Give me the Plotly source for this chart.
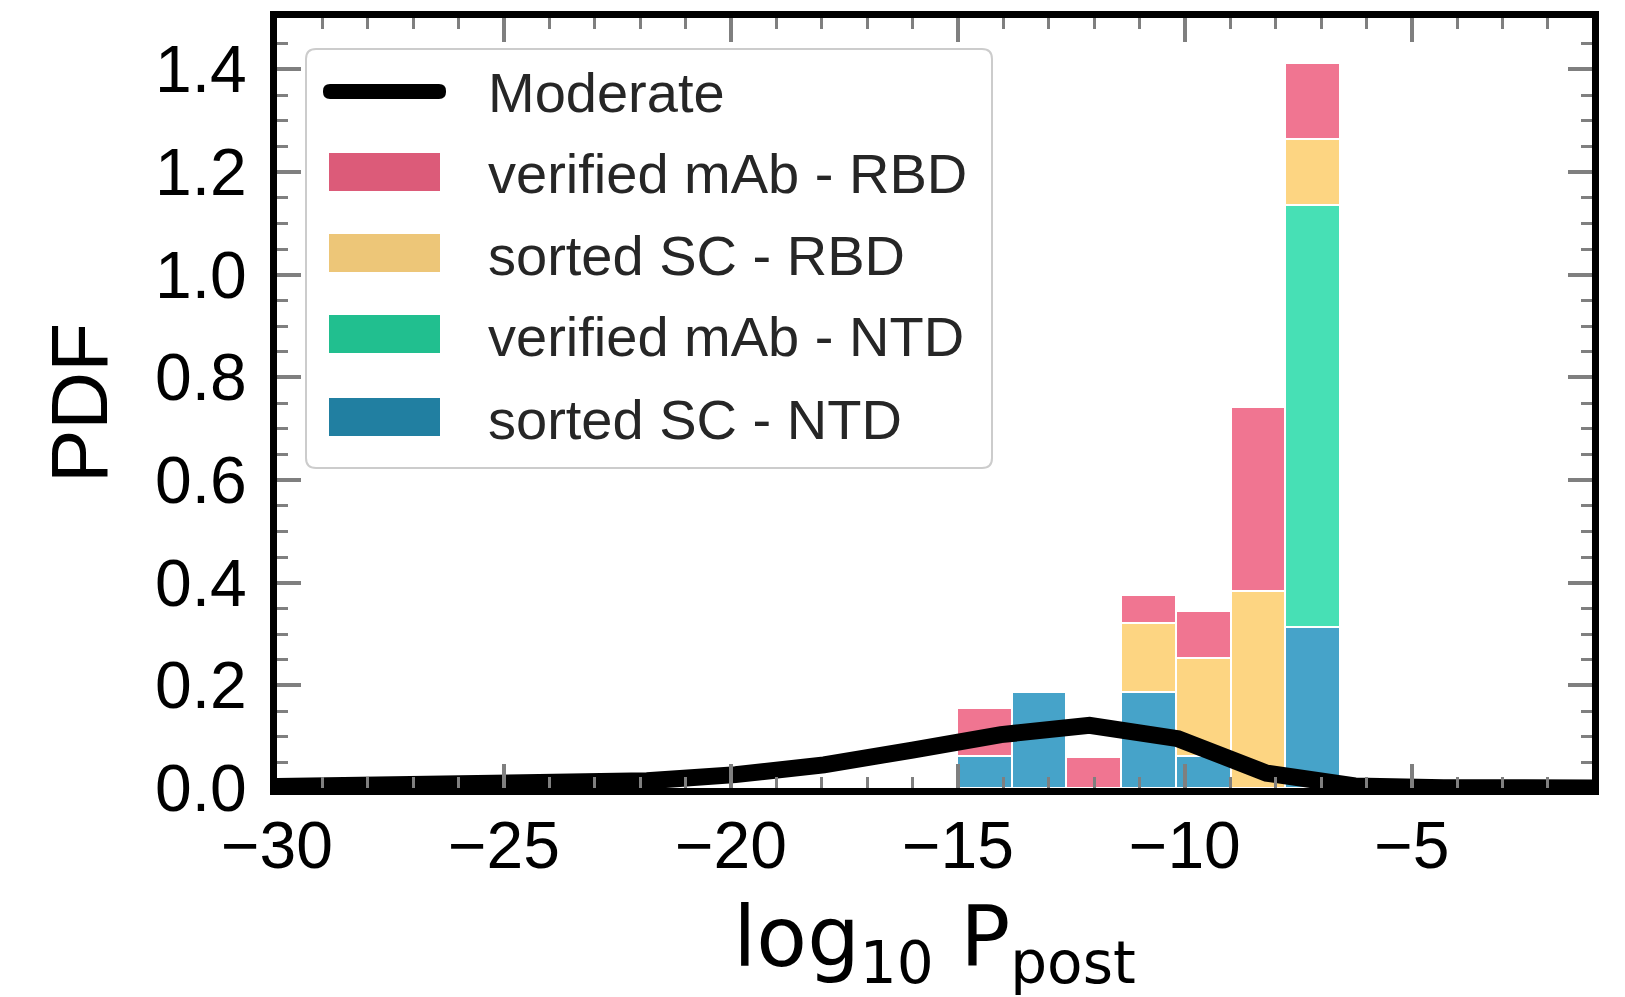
import plotly.graph_objects as go

# Histogram bins of log10 P_post (shared by all four stacked datasets)
bin_edges = [-15.02, -13.81, -12.61, -11.40, -10.20, -8.99, -7.79, -6.58]

# Stacked densities per bin, bottom to top
sorted_sc_ntd = [0.0625, 0.1875, 0.0, 0.1875, 0.0625, 0.0, 0.314]
verified_mab_ntd = [0.0, 0.0, 0.0, 0.0, 0.0, 0.0, 0.821]
sorted_sc_rbd = [0.0, 0.0, 0.0, 0.134, 0.190, 0.383, 0.129]
verified_mab_rbd = [0.093, 0.0, 0.060, 0.055, 0.092, 0.359, 0.148]

# "Moderate" reference density curve
moderate_x = [-31.6, -29.65, -27.7, -25.75, -23.8, -21.85, -19.9, -17.95, -16.0,
              -14.05, -12.1, -10.15, -8.2, -6.25, -4.3, -2.35, -0.4]
moderate_y = [0.001, 0.002, 0.003, 0.005, 0.008, 0.014, 0.026, 0.045, 0.074,
              0.104, 0.122, 0.096, 0.029, 0.004, 0.0005, 0.0, 0.0]

x_ticks = [-30, -25, -20, -15, -10, -5]
y_ticks = [0.0, 0.2, 0.4, 0.6, 0.8, 1.0, 1.2, 1.4]

series_names = ["sorted SC - NTD", "verified mAb - NTD", "sorted SC - RBD", "verified mAb - RBD"]
series_values = [sorted_sc_ntd, verified_mab_ntd, sorted_sc_rbd, verified_mab_rbd]
bar_colors = ["#46A3C9", "#47E0B5", "#FDD582", "#F07591"]
swatch_colors = ["#217FA1", "#21BF8F", "#EDC678", "#DC5B79"]

W, H = 1625, 997
M_L, M_R, M_T, M_B = 277, 33, 18, 209
PW, PH = W - M_L - M_R, H - M_T - M_B

centers = [(a + b) / 2 for a, b in zip(bin_edges[:-1], bin_edges[1:])]
widths = [(b - a) for a, b in zip(bin_edges[:-1], bin_edges[1:])]

fig = go.Figure()
for name, vals, col in zip(series_names, series_values, bar_colors):
    fig.add_trace(go.Bar(
        x=centers, y=[v if v > 0 else None for v in vals], width=widths,
        name=name, marker=dict(color=col, line=dict(color="white", width=2)),
        showlegend=False,
    ))

fig.add_trace(go.Scatter(
    x=moderate_x, y=moderate_y, mode="lines", name="Moderate",
    line=dict(color="black", width=17), showlegend=False,
))


def px(x):
    return (x - M_L) / PW


def py(y):
    return (H - M_B - y) / PH


def rounded_rect(x0, y0, x1, y1, r):
    rx, ry = r / PW, r / PH
    a, b, c, d = px(x0), px(x1), py(y0), py(y1)  # c is top, d is bottom
    return (f"M {a + rx},{c} L {b - rx},{c} Q {b},{c} {b},{c - ry} "
            f"L {b},{d + ry} Q {b},{d} {b - rx},{d} L {a + rx},{d} "
            f"Q {a},{d} {a},{d + ry} L {a},{c - ry} Q {a},{c} {a + rx},{c} Z")


shapes = []
# legend frame
shapes.append(dict(type="path", xref="paper", yref="paper",
                   path=rounded_rect(306, 49, 992, 468, 10),
                   fillcolor="rgba(255,255,255,0.8)",
                   line=dict(color="#cccccc", width=2)))
# legend line sample for the curve
shapes.append(dict(type="path", xref="paper", yref="paper",
                   path=rounded_rect(323, 84, 446, 99, 7),
                   fillcolor="black", line=dict(width=0)))

annotations = []
legend_font = dict(family="Liberation Sans, Arial", size=56, color="#262626")
annotations.append(dict(x=px(486), y=py(93), xref="paper", yref="paper",
                        text="Moderate", showarrow=False, xanchor="left",
                        yanchor="middle", font=legend_font))

legend_rows = [("verified mAb - RBD", swatch_colors[3], 172),
               ("sorted SC - RBD", swatch_colors[2], 253),
               ("verified mAb - NTD", swatch_colors[1], 334),
               ("sorted SC - NTD", swatch_colors[0], 417)]
for label, col, yc in legend_rows:
    shapes.append(dict(type="rect", xref="paper", yref="paper",
                       x0=px(329), x1=px(440), y0=py(yc - 19), y1=py(yc + 19),
                       fillcolor=col, line=dict(width=0)))
    annotations.append(dict(x=px(486), y=py(yc + 2), xref="paper", yref="paper",
                            text=label, showarrow=False, xanchor="left",
                            yanchor="middle", font=legend_font))

tick_font = dict(family="Liberation Sans, Arial", size=66, color="black")
axis_common = dict(
    showline=True, linecolor="black", linewidth=7, mirror="allticks",
    ticks="inside", ticklen=24, tickwidth=4, tickcolor="#7f7f7f",
    showgrid=False, zeroline=False, tickfont=tick_font,
)

fig.update_layout(
    width=W, height=H,
    margin=dict(l=M_L, r=M_R, t=M_T, b=M_B),
    paper_bgcolor="white", plot_bgcolor="white",
    barmode="stack", bargap=0,
    shapes=shapes, annotations=annotations,
    xaxis=dict(
        range=[-30, -1.03], tickvals=x_ticks, ticktext=[f"\u2212{abs(v)}" for v in x_ticks],
        minor=dict(dtick=1, tick0=-30, ticks="inside", ticklen=11, tickwidth=3,
                   tickcolor="#7f7f7f", showgrid=False),
        ticklabelstandoff=-6,
        title=dict(text="log<sub>10</sub> P<sub>post</sub>",
                   font=dict(family="DejaVu Sans", size=83, color="black"), standoff=44),
        **axis_common,
    ),
    yaxis=dict(
        range=[0, 1.5], tickvals=y_ticks, ticktext=[f"{v:.1f}" for v in y_ticks],
        minor=dict(dtick=0.05, tick0=0, ticks="inside", ticklen=11, tickwidth=3,
                   tickcolor="#7f7f7f", showgrid=False),
        ticklabelstandoff=10,
        title=dict(text="PDF", font=dict(family="Liberation Sans, Arial", size=80, color="black"),
                   standoff=24),
        **axis_common,
    ),
)

fig.write_html("out.html")
